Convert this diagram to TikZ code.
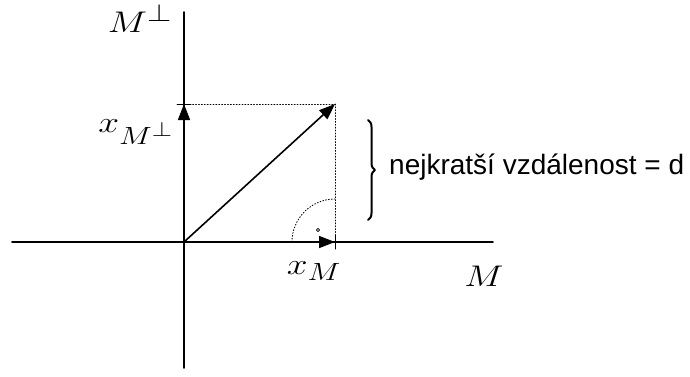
\documentclass[tikz,border=0pt]{standalone}
\usepackage{amsmath}
\usepackage{fontspec}
\setmainfont{Liberation Sans}
\usetikzlibrary{arrows.meta,decorations.pathreplacing}

\begin{document}
\begin{tikzpicture}[
  x=1pt, y=1pt,
  >={Triangle[length=16pt,width=12pt]},
  line cap=round,
  line join=round,
  axis/.style={line width=1.6pt},
  vec/.style={->, line width=1.6pt},
  aux/.style={dotted, line width=0.9pt},
  lbl/.style={font=\fontsize{24.88}{30}\selectfont, xscale=1.5, yscale=1.2,
    transform shape, inner sep=0pt}
]
  \useasboundingbox (0,0) rectangle (690,376);

  % The axes
  \coordinate (o)  at (184,134);
  \coordinate (ml) at ( 12,134);
  \coordinate (mr) at (493,134);
  \coordinate (pb) at (184,  8);
  \coordinate (pt) at (184,364);

  \draw[axis] (ml) -- (mr);
  \draw[axis] (pb) -- (pt);

  % The vector and its projections
  \coordinate (x)  at (335,272);
  \coordinate (xm) at (335,134);
  \coordinate (xp) at (184,272);

  \draw[vec] (o) -- (x);
  \draw[vec] (o) -- (xm);
  \draw[vec] (o) -- (xp);

  \draw[line width=1pt] ([xshift=-7pt]xp) -- ([xshift=7pt]xp);
  \draw[line width=1pt] ([yshift=-7pt]xm) -- ([yshift=7pt]xm);

  \draw[aux] (xp) -- (x);
  \draw[aux] (x) -- (xm);

  % Right angle
  \draw[aux] ([xshift=-43pt]xm) arc (180:90:43pt);
  \filldraw[fill=white, line width=0.6pt] (318,146) circle (1.6pt);

  % Shortest distance
  \coordinate (bt) at (368,256);
  \coordinate (bb) at (368,156);
  \draw[line width=2pt, decorate, decoration={brace, amplitude=7pt}] (bt) -- (bb);
  \node[anchor=west, font=\fontsize{28}{32}\selectfont, inner sep=0pt] (dist) at (389,209)
    {nejkratší vzdálenost = d};

  % Labels
  \node[lbl, anchor=north] (lmp) at (140,372) {$M^{\perp}$};
  \node[lbl] (lxmp) at (136,244) {$x_{M^{\perp}}$};
  \node[lbl] (lxm)  at (314,105) {$x_{M}$};
  \node[lbl] (lm)   at (484,100) {$M$};
\end{tikzpicture}
\end{document}
